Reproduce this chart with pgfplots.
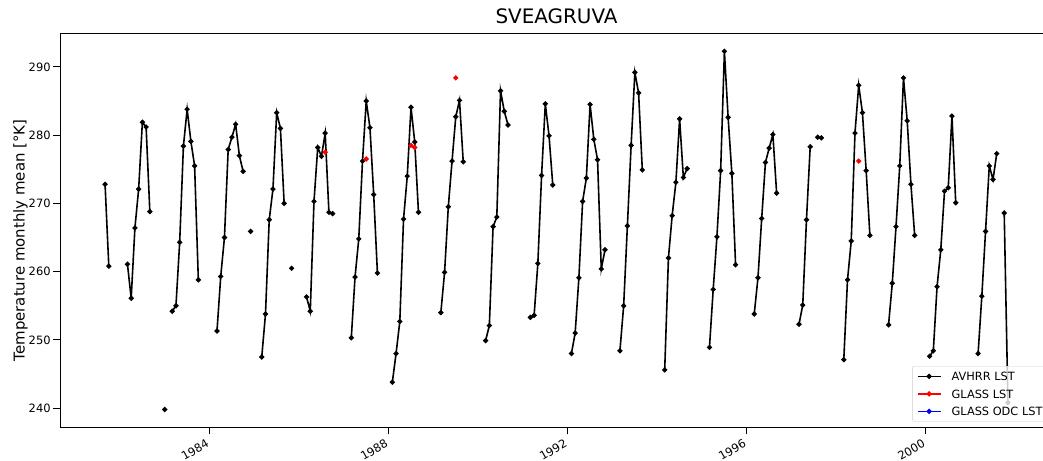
\documentclass[border=0pt]{standalone}
\usepackage{fontspec}
\setmainfont{DejaVu Sans}
\usepackage{pgfplots}
\usepackage{pgfplotstable}
\pgfplotsset{compat=1.18}

\pgfplotstableread{
x y
1981.6667 272.8
1981.75 260.8
1981.9 nan
1982.1667 261.1
1982.25 256.1
1982.3333 266.4
1982.4167 272.1
1982.5 281.9
1982.5833 281.2
1982.6667 268.8
1982.8 nan
1983.0 239.8
1983.1 nan
1983.1667 254.2
1983.25 255.0
1983.3333 264.3
1983.4167 278.4
1983.5 283.8
1983.5833 279.1
1983.6667 275.5
1983.75 258.8
1983.9 nan
1984.1667 251.3
1984.25 259.3
1984.3333 265.0
1984.4167 277.9
1984.5 279.7
1984.5833 281.6
1984.6667 277.0
1984.75 274.7
1984.8 nan
1984.9167 265.9
1985.0 nan
1985.1667 247.5
1985.25 253.8
1985.3333 267.6
1985.4167 272.1
1985.5 283.3
1985.5833 281.0
1985.6667 270.0
1985.7 nan
1985.8333 260.5
1985.9 nan
1986.1667 256.3
1986.25 254.2
1986.3333 270.3
1986.4167 278.2
1986.5 276.9
1986.5833 280.3
1986.6667 268.7
1986.75 268.5
1986.9 nan
1987.1667 250.3
1987.25 259.2
1987.3333 264.8
1987.4167 276.2
1987.5 285.0
1987.5833 281.1
1987.6667 271.3
1987.75 259.8
1987.9 nan
1988.0833 243.8
1988.1667 248.0
1988.25 252.7
1988.3333 267.7
1988.4167 274.0
1988.5 284.1
1988.5833 279.0
1988.6667 268.7
1988.9 nan
1989.1667 254.0
1989.25 259.9
1989.3333 269.5
1989.4167 276.2
1989.5 282.7
1989.5833 285.1
1989.6667 276.1
1989.9 nan
1990.1667 249.9
1990.25 252.1
1990.3333 266.6
1990.4167 268.0
1990.5 286.5
1990.5833 283.5
1990.6667 281.5
1990.9 nan
1991.1667 253.3
1991.25 253.6
1991.3333 261.2
1991.4167 274.1
1991.5 284.6
1991.5833 279.9
1991.6667 272.7
1991.9 nan
1992.0833 248.0
1992.1667 251.0
1992.25 259.1
1992.3333 270.3
1992.4167 273.7
1992.5 284.5
1992.5833 279.4
1992.6667 276.4
1992.75 260.4
1992.8333 263.2
1992.9 nan
1993.1667 248.4
1993.25 255.0
1993.3333 266.7
1993.4167 278.5
1993.5 289.2
1993.5833 286.2
1993.6667 274.9
1993.9 nan
1994.1667 245.6
1994.25 262.0
1994.3333 268.2
1994.4167 273.1
1994.5 282.4
1994.5833 273.8
1994.6667 275.1
1994.9 nan
1995.1667 248.9
1995.25 257.4
1995.3333 265.1
1995.4167 274.8
1995.5 292.3
1995.5833 282.6
1995.6667 274.4
1995.75 261.0
1995.9 nan
1996.1667 253.8
1996.25 259.1
1996.3333 267.8
1996.4167 276.0
1996.5 278.1
1996.5833 280.1
1996.6667 271.5
1996.9 nan
1997.1667 252.3
1997.25 255.1
1997.3333 267.6
1997.4167 278.3
1997.5 nan
1997.5833 279.7
1997.6667 279.6
1997.9 nan
1998.1667 247.1
1998.25 258.8
1998.3333 264.5
1998.4167 280.3
1998.5 287.3
1998.5833 283.3
1998.6667 274.8
1998.75 265.3
1998.9 nan
1999.1667 252.2
1999.25 258.3
1999.3333 266.6
1999.4167 275.5
1999.5 288.4
1999.5833 282.1
1999.6667 272.8
1999.75 265.3
1999.9 nan
2000.0833 247.6
2000.1667 248.4
2000.25 257.8
2000.3333 263.2
2000.4167 271.8
2000.5 272.3
2000.5833 282.8
2000.6667 270.1
2000.9 nan
2001.1667 248.0
2001.25 256.4
2001.3333 265.9
2001.4167 275.5
2001.5 273.5
2001.5833 277.3
2001.6667 nan
2001.75 268.6
2001.8333 240.8
}\avhrr

\pgfplotstableread{
x y
1986.5833 277.5
1986.9 nan
1987.5 276.5
1987.9 nan
1988.5 278.5
1988.5833 278.2
1988.9 nan
1989.5 288.4
1989.9 nan
1998.5 276.2
}\glass

\begin{document}
\begin{tikzpicture}
\begin{axis}[
  name=ax,
  scale only axis,
  width=993bp, height=394.4bp,
  xmin=1980.66, xmax=2002.84,
  ymin=237.13, ymax=294.93,
  unbounded coords=jump,
  axis line style={black, line width=1bp},
  tick align=outside,
  tick pos=left,
  major tick length=6.7bp,
  every tick/.style={black, line width=1bp},
  xtick={1984,1988,1992,1996,2000},
  xticklabels={1984,1988,1992,1996,2000},
  ytick={240,250,260,270,280,290},
  /pgf/number format/assume math mode=true,
  tick label style={font=\fontsize{11.5}{13}\selectfont},
  xticklabel style={rotate=30, anchor=north east, inner sep=1.5bp, xshift=-4bp},
  yticklabel style={inner sep=2.5bp},
  title={SVEAGRUVA},
  title style={font=\fontsize{20}{24}\selectfont, at={(rel axis cs:0.5,1)}, anchor=base, yshift=4.3bp},
  ylabel={Temperature monthly mean [°K]},
  every axis y label/.style={at={([xshift=-47bp]rel axis cs:0,0.475)}, rotate=90, anchor=north, inner sep=0bp, font=\fontsize{15}{18}\selectfont},
  legend style={at={(rel axis cs:1,0)}, anchor=south east, xshift=-6bp, yshift=6bp,
    draw=black!20, fill=white, fill opacity=0.8, text opacity=1, draw opacity=1,
    rounded corners=2bp, inner xsep=4.3bp, inner ysep=6bp, row sep=9.2bp, column sep=10bp,
    nodes={inner sep=0bp, text height=8.3bp, text depth=0bp},
    font=\fontsize{11.4}{13}\selectfont, cells={anchor=west}},
  legend image code/.code={\draw[mark repeat=2,mark phase=2] plot coordinates {(0bp,0bp)(11.65bp,0bp)(23.3bp,0bp)};},
]
\addplot[black, line width=1.6bp, mark=*, mark size=1.7bp, mark options={solid}] table[x=x,y=y] {\avhrr};
\addlegendentry{AVHRR LST}
\addplot[red, line width=1.6bp, mark=*, mark size=1.7bp, mark options={solid}] table[x=x,y=y] {\glass};
\addlegendentry{GLASS LST}
\addlegendimage{blue, line width=1.6bp, mark=*, mark size=1.7bp, mark options={solid}}
\addlegendentry{GLASS ODC LST}
\end{axis}
\pgfresetboundingbox
\path[use as bounding box] ([shift={(-60bp,-33.3bp)}]ax.south west) rectangle ([shift={(983bp,427.7bp)}]ax.south west);
\end{tikzpicture}
\end{document}
